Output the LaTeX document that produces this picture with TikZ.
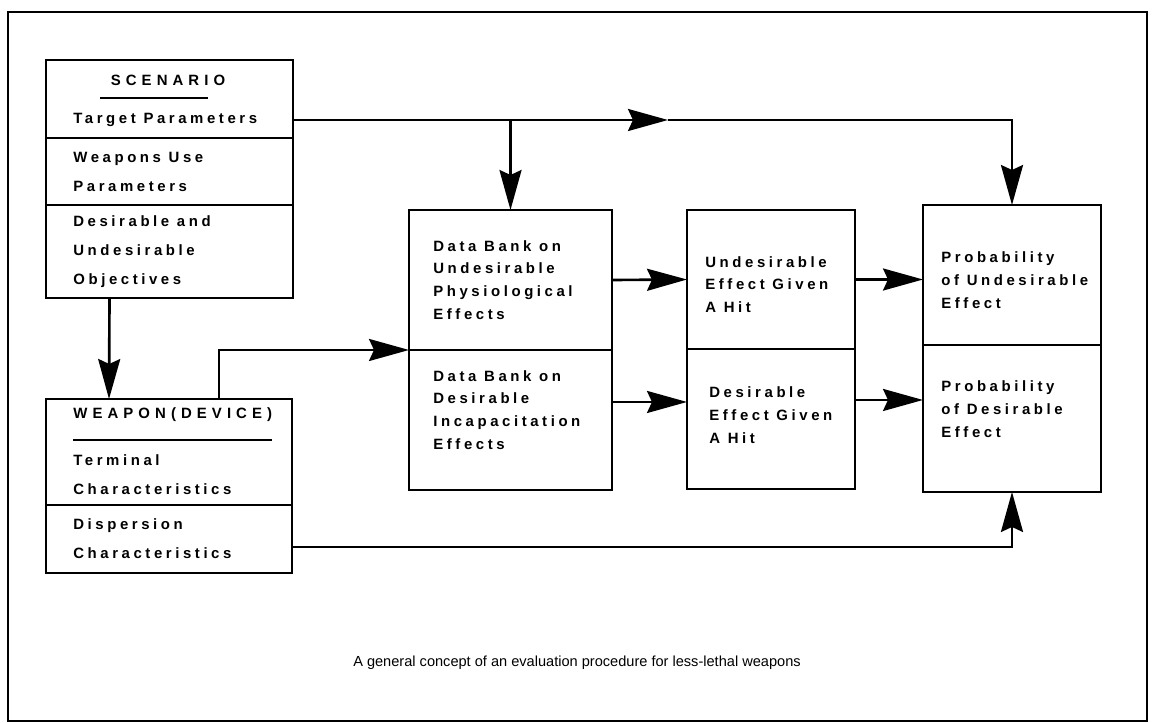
\documentclass[tikz,border=0pt]{standalone}
\usepackage{fontspec}
\usetikzlibrary{positioning, arrows.meta}
\newfontfamily\boxfont[LetterSpace=24]{Liberation Sans}
\newfontfamily\headfont[LetterSpace=34]{Liberation Sans}
\newfontfamily\capfont{Liberation Sans}
\tikzset{
  part/.style = {draw, line width=1.2pt, inner sep=0pt, outer sep=0pt},
  bodyl/.style = {inner sep=0pt, align=left, font=\boxfont\bfseries\fontsize{8.5}{16.5}\selectfont},
  body/.style = {inner sep=0pt, align=left, font=\boxfont\bfseries\fontsize{8.5}{13}\selectfont},
  head/.style = {inner sep=0pt, font=\headfont\bfseries\fontsize{8.5}{10}\selectfont},
  uline/.style = {line width=1.2pt},
  wire/.style = {line width=1.5pt},
  flow/.style = {line width=1.5pt, -{Stealth[length=0.8cm, width=0.44cm, inset=0.1cm]}}
}

\begin{document}
\begin{tikzpicture}[x=0.02cm, y=-0.02cm]
\useasboundingbox (0,0) rectangle (1154,723);
\draw[line width=1pt] (8,12) rectangle (1147,721);

% scenario
\node[part, minimum width=4.94cm, minimum height=1.56cm] (scen1) at (169.5,99) {};
\node[part, minimum width=4.94cm, minimum height=1.34cm, below=0pt of scen1] (scen2) {};
\node[part, minimum width=4.94cm, minimum height=1.86cm, below=0pt of scen2] (scen3) {};
\node[head] (scenhead) at (168,80) {SCENARIO};
\draw[uline] ([xshift=-0.2cm, yshift=-0.24cm]scenhead.south west) -- ([xshift=-0.35cm, yshift=-0.24cm]scenhead.south east);
\node[bodyl, anchor=west] (tgt) at (73,120) {Target Parameters};
\node[bodyl, right=0.54cm of scen2.west] (usetxt) {Weapons Use\\Parameters};
\node[bodyl, right=0.54cm of scen3.west] (objtxt) {Desirable and\\Undesirable\\Objectives};

% weapon
\node[part, minimum width=4.92cm, minimum height=2.12cm] (weap1) at (169,452) {};
\node[part, minimum width=4.92cm, minimum height=1.36cm, below=0pt of weap1] (weap2) {};
\node[head, anchor=west] (weaphead) at (73,415) {WEAPON(DEVICE)};
\draw[uline] ([yshift=-0.36cm]weaphead.south west) -- ([yshift=-0.36cm]weaphead.south east);
\node[bodyl, anchor=west] (termtxt) at (73,475) {Terminal\\Characteristics};
\node[bodyl, right=0.54cm of weap2.west] (disptxt) {Dispersion\\Characteristics};

% data banks
\node[part, minimum width=4.06cm, minimum height=2.8cm] (bank1) at (510.5,280) {};
\node[part, minimum width=4.06cm, minimum height=2.8cm, below=0pt of bank1] (bank2) {};
\node[body, right=0.48cm of bank1.west] (bank1txt) {Data Bank on\\Undesirable\\Physiological\\Effects};
\node[body, right=0.48cm of bank2.west, yshift=0.2cm] (bank2txt) {Data Bank on\\Desirable\\Incapacitation\\Effects};

% effects given a hit
\node[part, minimum width=3.36cm, minimum height=2.78cm] (eff1) at (771,279.5) {};
\node[part, minimum width=3.36cm, minimum height=2.8cm, below=0pt of eff1] (eff2) {};
\node[body, right=0.36cm of eff1.west, yshift=-0.1cm] (eff1txt) {Undesirable\\Effect Given\\A Hit};
\node[body, right=0.44cm of eff2.west, yshift=0.07cm] (eff2txt) {Desirable\\Effect Given\\A Hit};

% probabilities
\node[part, minimum width=3.56cm, minimum height=2.8cm] (prob1) at (1012,275) {};
\node[part, minimum width=3.56cm, minimum height=2.94cm, below=0pt of prob1] (prob2) {};
\node[body, right=0.36cm of prob1.west, yshift=-0.1cm] (prob1txt) {Probability\\of Undesirable\\Effect};
\node[body, right=0.36cm of prob2.west, yshift=0.19cm] (prob2txt) {Probability\\of Desirable\\Effect};

% connectors
\coordinate (split) at (bank1.north |- tgt);
\coordinate (hop) at (668,120);
\draw[wire] (tgt -| scen1.east) -- (split);
\draw[flow] (split) -- (bank1.north);
\draw[flow] (split) -- (hop);
\draw[flow] (hop) -| (prob1.north);
\draw[flow] ([xshift=-1.2cm]scen3.south) -- ([xshift=-1.2cm]weap1.north);
\draw[flow] ([xshift=1cm]weap1.north) |- (bank1.south west);
\draw[flow] (bank1.east) -- (eff1.west);
\draw[flow] ([yshift=0.36cm]bank2.east) -- ([yshift=0.36cm]bank2.east -| eff2.west);
\draw[flow] (eff1.east) -- (prob1.west |- eff1.east);
\draw[flow] ([yshift=0.38cm]eff2.east) -- ([yshift=0.38cm]eff2.east -| prob2.west);
\draw[flow] ([yshift=-0.16cm]weap2.east) -| (prob2.south);

\node[font=\capfont\fontsize{8.3}{10}\selectfont] (cap) at (577,663) {A general concept of an evaluation procedure for less-lethal weapons};
\end{tikzpicture}
\end{document}
